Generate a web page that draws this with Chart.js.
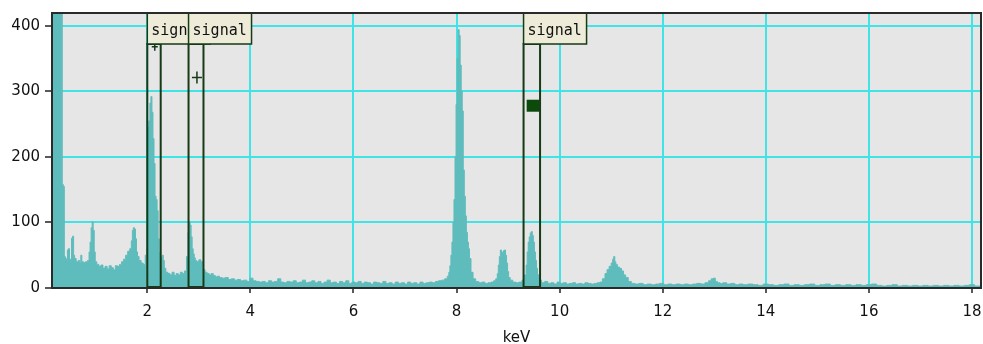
<!DOCTYPE html>
<html>
<head>
<meta charset="utf-8">
<script src="https://cdn.jsdelivr.net/npm/chart.js@4/dist/chart.umd.min.js"></script>
<style>
  html, body { margin: 0; padding: 0; background: #ffffff; }
  canvas { display: block; }
</style>
</head>
<body>
<canvas id="spectrum" width="983" height="344"></canvas>
<script>
// EDS spectrum: channel energies (keV) and counts, segment by segment
const energyKeV = [
  0.16,0.20,0.24,0.28,0.32,0.34,0.36,0.38,0.40,0.42,
  0.44,0.46,0.48,0.50,0.52,0.54,0.56,0.58,0.60,0.64,0.68,0.70,0.72,0.74,0.78,0.82,0.86,0.88,0.90,0.92,0.94,0.96,0.98,1.00,
  1.04,1.08,1.12,1.16,1.20,1.24,1.28,1.32,1.36,1.40,1.44,1.48,1.52,1.56,1.60,1.64,1.68,1.70,1.72,1.74,1.76,1.78,1.80,1.82,1.86,1.90,1.94,1.98,
  2.00,2.02,2.04,2.06,2.08,2.10,2.12,2.14,2.16,2.18,2.20,2.22,2.24,2.26,2.28,2.30,2.32,2.34,
  2.38,2.42,2.46,2.50,2.54,2.58,2.62,2.66,2.70,2.74,2.78,2.80,2.82,2.84,2.86,2.88,2.90,2.92,2.94,2.98,3.02,3.06,
  3.10,3.14,3.18,3.22,3.26,3.30,3.34,3.38,3.42,3.48,3.54,3.60,3.66,3.72,3.78,3.84,3.90,3.96,4.02,4.08,4.14,4.20,
  4.26,4.32,4.38,4.44,4.50,4.56,4.62,4.68,4.74,4.80,
  4.86,4.92,4.98,5.04,5.10,5.16,5.22,5.28,5.34,5.40,
  5.46,5.52,5.58,5.64,5.70,5.76,5.82,5.88,5.94,6.00,
  6.06,6.12,6.18,6.24,6.30,6.36,6.42,6.48,6.54,6.60,
  6.66,6.72,6.78,6.84,6.90,6.96,7.02,7.08,7.14,7.20,
  7.26,7.32,7.38,7.44,7.50,7.56,7.62,7.68,7.74,
  7.80,7.84,7.86,7.88,7.90,7.92,7.94,7.96,7.98,8.00,8.02,8.04,8.06,8.08,8.10,8.12,8.14,8.16,8.18,8.20,8.22,8.24,8.26,8.30,8.34,
  8.40,8.46,8.52,8.58,8.64,8.70,8.74,8.78,8.80,8.82,8.84,8.86,8.88,8.90,8.92,8.94,8.96,8.98,9.00,9.02,9.06,9.12,9.18,9.24,
  9.30,9.34,9.36,9.38,9.40,9.42,9.44,9.46,9.48,9.50,9.52,9.54,9.56,9.58,9.62,
  9.68,9.74,9.80,9.86,9.92,9.98,10.04,10.10,10.16,10.22,10.28,10.34,10.40,10.46,10.52,10.58,10.64,10.70,10.76,
  10.80,10.86,10.90,10.94,10.98,11.02,11.04,11.06,11.08,11.10,11.14,11.18,11.22,11.26,11.30,11.36,11.42,
  11.50,11.58,11.66,11.74,11.82,11.90,11.98,12.06,12.14,12.22,12.30,12.38,12.46,12.54,12.62,12.70,12.78,12.86,
  12.92,12.96,13.00,13.04,13.08,13.14,13.20,13.28,13.36,13.44,13.52,13.60,
  13.70,13.80,13.90,14.00,14.10,14.20,14.30,14.40,14.50,14.60,
  14.70,14.80,14.90,15.00,15.10,15.20,15.30,15.40,15.50,15.60,
  15.70,15.80,15.90,16.00,16.10,16.20,16.30,16.40,16.50,16.60,
  16.70,16.80,16.90,17.00,17.10,17.20,17.30,17.40,17.50,17.60,
  17.70,17.80,17.90,18.00,18.10,18.18
];
const counts = [
  1500,1500,1500,1400,900,600,158,155,48,45,
  44,58,60,44,40,76,79,50,45,40,42,38,50,40,39,40,42,55,70,92,101,88,55,40,
  36,33,35,30,33,29,34,31,28,34,33,36,40,44,50,56,60,72,88,92,90,75,55,48,42,38,36,50,
  60,245,255,282,292,268,228,190,140,135,118,75,55,48,44,50,42,30,
  24,22,20,24,19,22,20,24,22,26,48,85,101,96,78,60,52,46,42,40,43,40,
  28,24,22,20,22,19,17,18,16,15,16,13,14,12,13,11,12,10,15,11,10,9,
  10,8,11,9,10,14,9,8,10,9,
  11,8,9,12,8,9,11,8,10,7,
  9,12,8,9,7,10,8,11,7,9,
  8,10,7,9,8,6,9,8,7,10,
  7,8,6,9,7,8,6,9,7,8,
  6,9,7,8,9,8,10,11,12,
  14,18,24,34,50,70,100,135,200,280,350,394,385,340,300,270,180,140,110,85,70,60,45,24,14,
  10,8,9,7,8,9,11,14,22,35,48,58,55,52,57,58,50,38,25,16,12,9,8,9,
  12,20,35,55,70,78,84,86,80,70,55,42,30,20,12,
  8,10,7,8,6,9,7,8,6,7,8,6,7,6,8,7,6,7,8,
  9,14,22,28,33,38,44,48,40,36,32,30,26,20,16,10,7,
  6,7,5,6,5,6,7,5,6,5,6,5,6,5,6,7,6,8,
  11,14,15,10,8,7,8,6,7,5,6,5,
  6,5,4,6,5,4,5,6,4,5,
  4,5,6,4,5,6,4,5,4,5,
  4,5,4,5,6,4,3,4,5,3,
  4,3,4,3,4,3,4,3,4,3,
  4,3,4,5,3,3
];

// axis ticks
const xTickValues = [2, 4, 6, 8, 10, 12, 14, 16, 18];
const yTickValues = [0, 100, 200, 300, 400];

// integration windows with their tags
const signalWindowsKeV = [[2.00, 2.26], [2.80, 3.09], [9.30, 9.62]];
const signalLabels = ['signal', 'signal', 'signal'];

// cursor marks inside the windows
const crossMarkerKeV = [2.145, 2.963];
const crossMarkerCounts = [368, 321];
const squareMarkerKeV = [9.486];
const squareMarkerCounts = [278];

const COLORS = {
  plotBg: '#e6e6e6',
  grid: '#40e4e6',
  spectrum: '#5fbcbc',
  frame: '#2a2a2a',
  window: '#173a17',
  tagFill: '#eeecd8',
  tagText: '#111111',
  marker: '#0b4a0b'
};
const TAG_W = 63, TAG_H = 31;
const CROSS_ARM = [3, 5];

const plotDecor = {
  id: 'plotDecor',
  beforeDraw(chart) {
    const { ctx, chartArea: a } = chart;
    ctx.save();
    ctx.fillStyle = COLORS.plotBg;
    ctx.fillRect(a.left, a.top, a.right - a.left, a.bottom - a.top);
    ctx.restore();
  },
  afterDatasetsDraw(chart) {
    const { ctx, chartArea: a, scales: { x, y } } = chart;
    ctx.save();

    // cross cursors
    ctx.strokeStyle = COLORS.window;
    ctx.lineWidth = 1.5;
    crossMarkerKeV.forEach((k, i) => {
      const px = x.getPixelForValue(k);
      const py = y.getPixelForValue(crossMarkerCounts[i]);
      const r = CROSS_ARM[i];
      ctx.beginPath();
      ctx.moveTo(px - r, py); ctx.lineTo(px + r, py);
      ctx.moveTo(px, py - r - 1); ctx.lineTo(px, py + r + 1);
      ctx.stroke();
    });

    // square cursor
    ctx.fillStyle = COLORS.marker;
    squareMarkerKeV.forEach((k, i) => {
      const px = x.getPixelForValue(k);
      const py = y.getPixelForValue(squareMarkerCounts[i]);
      ctx.fillRect(px - 6.5, py - 6, 13, 12);
    });

    // window outlines
    ctx.strokeStyle = COLORS.window;
    ctx.lineWidth = 2;
    signalWindowsKeV.forEach(([lo, hi]) => {
      const x0 = x.getPixelForValue(lo);
      const x1 = x.getPixelForValue(hi);
      ctx.strokeRect(x0, a.top + TAG_H, x1 - x0, a.bottom - 1 - (a.top + TAG_H));
    });

    // window tags
    ctx.font = '15px "DejaVu Sans Mono", monospace';
    ctx.textBaseline = 'alphabetic';
    ctx.textAlign = 'left';
    signalWindowsKeV.forEach(([lo], i) => {
      const x0 = x.getPixelForValue(lo);
      ctx.fillStyle = COLORS.tagFill;
      ctx.fillRect(x0, a.top, TAG_W, TAG_H);
      ctx.strokeStyle = COLORS.window;
      ctx.lineWidth = 1.5;
      ctx.strokeRect(x0, a.top, TAG_W, TAG_H);
      ctx.fillStyle = COLORS.tagText;
      ctx.fillText(signalLabels[i], x0 + 4, a.top + 22);
    });

    // plot frame
    ctx.strokeStyle = COLORS.frame;
    ctx.lineWidth = 2;
    ctx.strokeRect(a.left, a.top, a.right - a.left, a.bottom - a.top);
    ctx.restore();
  }
};

const tickFont = { family: '"DejaVu Sans", sans-serif', size: 15 };

new Chart(document.getElementById('spectrum'), {
  type: 'line',
  data: {
    datasets: [{
      data: energyKeV.map((e, i) => ({ x: e, y: counts[i] })),
      borderColor: COLORS.spectrum,
      backgroundColor: COLORS.spectrum,
      borderWidth: 1,
      pointRadius: 0,
      fill: 'origin',
      stepped: 'middle'
    }]
  },
  options: {
    responsive: false,
    animation: false,
    devicePixelRatio: 1,
    layout: { padding: { top: 13, right: 2, left: 0, bottom: 0 } },
    plugins: { legend: { display: false }, tooltip: { enabled: false } },
    scales: {
      x: {
        type: 'linear',
        min: 0.151,
        max: 18.175,
        afterBuildTicks: s => { s.ticks = xTickValues.map(v => ({ value: v })); },
        afterFit: s => { s.height = 56; s.paddingLeft = 0; s.paddingRight = 0; },
        border: { display: false },
        grid: { color: COLORS.grid, lineWidth: 2, tickLength: 5, tickColor: '#222', tickWidth: 1.5 },
        ticks: { font: tickFont, color: '#111', padding: 10, maxRotation: 0, autoSkip: false },
        title: { display: true, text: 'keV', font: { family: '"DejaVu Sans", sans-serif', size: 15, lineHeight: 0.8 }, color: '#111', padding: 0 }
      },
      y: {
        min: 0,
        max: 419.4,
        afterBuildTicks: s => { s.ticks = yTickValues.map(v => ({ value: v })); },
        afterFit: s => { s.width = 52; s.paddingTop = 0; s.paddingBottom = 0; },
        border: { display: false },
        grid: {
          color: c => (c.tick && c.tick.value === 0 ? 'rgba(0,0,0,0)' : COLORS.grid),
          lineWidth: 2, tickLength: 7, tickColor: '#222', tickWidth: 1.5
        },
        ticks: { font: tickFont, color: '#111', padding: 5 }
      }
    }
  },
  plugins: [plotDecor]
});
</script>
</body>
</html>
